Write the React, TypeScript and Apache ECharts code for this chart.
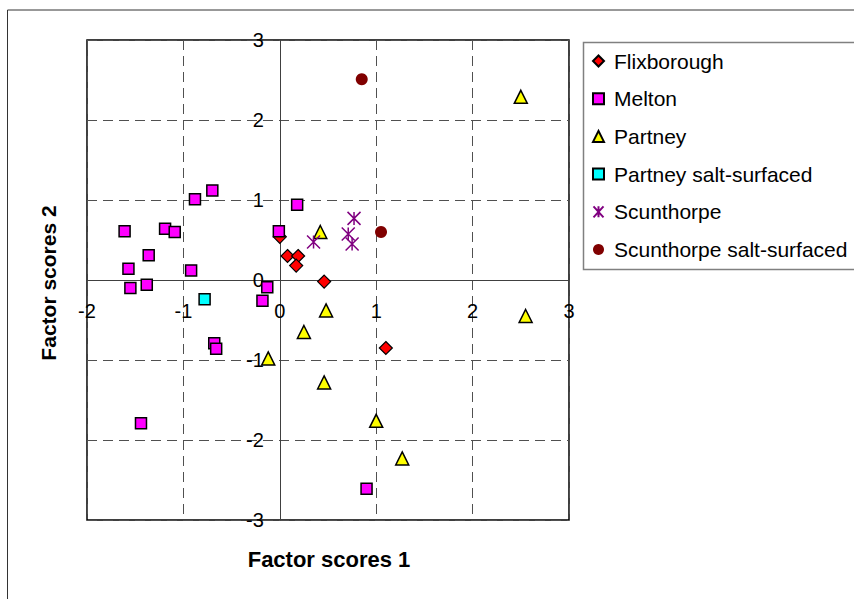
import React, { useEffect, useRef } from "react";
import * as echarts from "echarts";

const seriesNames = [
  "Flixborough",
  "Melton",
  "Partney",
  "Partney salt-surfaced",
  "Scunthorpe",
  "Scunthorpe salt-surfaced",
];

const flixborough: number[][] = [
  [0.0, 0.54], [0.08, 0.3], [0.19, 0.3], [0.17, 0.18], [0.46, -0.02], [1.1, -0.85],
];
const melton: number[][] = [
  [-1.61, 0.61], [-1.57, 0.14], [-1.55, -0.1], [-1.36, 0.31], [-1.38, -0.06],
  [-1.19, 0.64], [-1.09, 0.6], [-0.92, 0.12], [-0.88, 1.01], [-0.7, 1.12],
  [0.18, 0.94], [-0.01, 0.61], [-0.13, -0.09], [-0.18, -0.26], [-0.68, -0.79],
  [-0.66, -0.86], [-1.44, -1.79], [0.9, -2.61],
];
const partney: number[][] = [
  [0.42, 0.6], [2.5, 2.29], [0.48, -0.38], [0.25, -0.65], [2.55, -0.45],
  [0.46, -1.28], [1.0, -1.76], [1.27, -2.23], [-0.12, -0.98],
];
const partneySalt: number[][] = [[-0.78, -0.24]];
const scunthorpe: number[][] = [
  [0.35, 0.475], [0.77, 0.77], [0.71, 0.575], [0.75, 0.45],
];
const scunthorpeSalt: number[][] = [[0.85, 2.51], [1.05, 0.6]];

const xTicks = { min: -2, max: 3, interval: 1 };
const yTicks = { min: -3, max: 3, interval: 1 };

const FONT = "'Liberation Sans', Arial, sans-serif";
const ASTERISK = "path://M0,0L10,11M10,0L0,11M5,0L5,11";

const GRID = { left: 87, top: 40, width: 482, height: 480 };

export default function App() {
  const ref = useRef<HTMLDivElement>(null);
  useEffect(() => {
    if (!ref.current) return;
    const chart = echarts.init(ref.current, undefined, { renderer: "svg" });
    // offsets that put each axis on the other axis's zero
    const xZeroOffset =
      -(GRID.height * (0 - yTicks.min)) / (yTicks.max - yTicks.min);
    const yZeroOffset =
      -(GRID.width * (0 - xTicks.min)) / (xTicks.max - xTicks.min);
    const mk = (
      name: string,
      data: number[][],
      symbol: string,
      size: number,
      color: string,
      border: string,
      bw: number
    ) => ({
      name,
      type: "scatter",
      data,
      symbol,
      symbolSize: size,
      itemStyle: { color, borderColor: border, borderWidth: bw, opacity: 1 },
      emphasis: { disabled: true },
    });
    chart.setOption({
      animation: false,
      backgroundColor: "#ffffff",
      textStyle: { fontFamily: FONT },
      grid: {
        ...GRID,
        show: true,
        borderColor: "#000000",
        borderWidth: 1.5,
        containLabel: false,
      },
      legend: {
        orient: "vertical",
        left: 592,
        top: 50.5,
        padding: 0,
        itemWidth: 11,
        itemHeight: 11,
        itemGap: 16.7,
        data: seriesNames,
        textStyle: {
          fontFamily: FONT,
          fontSize: 21,
          color: "#000000",
          padding: [0, 0, 0, 5],
        },
        selectedMode: false,
      },
      xAxis: {
        type: "value",
        position: "bottom",
        offset: xZeroOffset,
        min: xTicks.min,
        max: xTicks.max,
        interval: xTicks.interval,
        axisLine: { onZero: false, lineStyle: { color: "#404040", width: 1 } },
        axisTick: { show: false },
        axisLabel: {
          margin: 21,
          fontSize: 20,
          color: "#000000",
          fontFamily: FONT,
          showMinLabel: true,
          showMaxLabel: true,
        },
        splitLine: {
          show: true,
          lineStyle: { color: "#505050", width: 1, type: [10, 6] },
        },
      },
      yAxis: {
        type: "value",
        position: "left",
        offset: yZeroOffset,
        min: yTicks.min,
        max: yTicks.max,
        interval: yTicks.interval,
        axisLine: { onZero: false, lineStyle: { color: "#404040", width: 1 } },
        axisTick: { show: false },
        axisLabel: {
          margin: 16,
          fontSize: 20,
          color: "#000000",
          fontFamily: FONT,
          showMinLabel: true,
          showMaxLabel: true,
        },
        splitLine: {
          show: true,
          lineStyle: { color: "#505050", width: 1, type: [10, 6] },
        },
      },
      graphic: [
        {
          type: "rect",
          shape: { x: 7.5, y: 10, width: 900, height: 700 },
          style: { fill: "none", stroke: "#333333", lineWidth: 1 },
          silent: true,
          z: -10,
        },
        {
          type: "rect",
          shape: { x: 583.5, y: 42.5, width: 400, height: 227 },
          style: { fill: "#ffffff", stroke: "#808080", lineWidth: 1.5 },
          silent: true,
          z: -5,
        },
        {
          type: "text",
          x: 329,
          y: 559,
          style: {
            text: "Factor scores 1",
            font: `bold 22px ${FONT}`,
            fill: "#000000",
            align: "center",
            verticalAlign: "middle",
          },
          silent: true,
        },
        {
          type: "text",
          x: 48,
          y: 283,
          rotation: Math.PI / 2,
          style: {
            text: "Factor scores 2",
            font: `bold 21px ${FONT}`,
            fill: "#000000",
            align: "center",
            verticalAlign: "middle",
          },
          silent: true,
        },
      ],
      series: [
        mk(seriesNames[0], flixborough, "diamond", 13, "#FF0000", "#000000", 1.2),
        mk(seriesNames[1], melton, "rect", 11, "#FF00FF", "#000000", 1.5),
        mk(seriesNames[2], partney, "triangle", 13, "#FFFF00", "#000000", 1.5),
        mk(seriesNames[3], partneySalt, "rect", 11, "#00FFFF", "#000000", 1.5),
        mk(seriesNames[4], scunthorpe, ASTERISK, 13, "rgba(0,0,0,0)", "#800080", 1.5),
        mk(seriesNames[5], scunthorpeSalt, "circle", 12, "#800000", "#800000", 0),
      ],
    });
    return () => chart.dispose();
  }, []);
  return (
    <div
      ref={ref}
      style={{ position: "fixed", left: 0, top: 0, width: 854, height: 599 }}
    />
  );
}
